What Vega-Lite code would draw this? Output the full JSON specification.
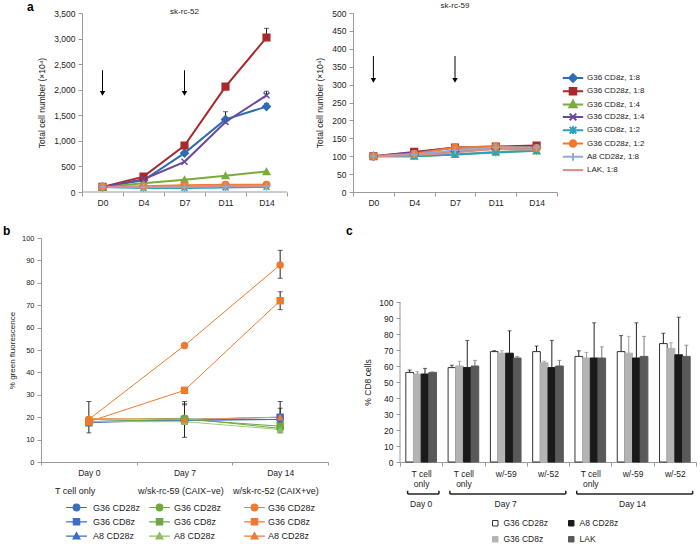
{
  "$schema": "https://vega.github.io/schema/vega-lite/v6.json",
  "padding": {"left": 3, "top": 1, "right": 0, "bottom": 0},
  "config": {
    "font": "Liberation Sans",
    "view": {"stroke": null},
    "axis": {"grid": false, "labelOverlap": false, "labelFontSize": 8.5, "titleFontSize": 8.5, "titleFontWeight": "normal", "labelColor": "#222", "titleColor": "#222", "domainColor": "#9a9a9a", "tickColor": "#9a9a9a", "tickSize": 4},
    "legend": {"labelFontSize": 8.5, "titleFontSize": 8.5, "titleFontWeight": "normal", "labelColor": "#222", "titleColor": "#222"},
    "title": {"fontSize": 8.5, "fontWeight": "normal", "color": "#222"}
  },
  "datasets": {
    "growth": [
      {"line": "sk-rc-52", "day": "D0", "series": "G36 CD8z, 1:8", "value": 100},
      {"line": "sk-rc-52", "day": "D4", "series": "G36 CD8z, 1:8", "value": 230},
      {"line": "sk-rc-52", "day": "D7", "series": "G36 CD8z, 1:8", "value": 760},
      {"line": "sk-rc-52", "day": "D11", "series": "G36 CD8z, 1:8", "value": 1420},
      {"line": "sk-rc-52", "day": "D14", "series": "G36 CD8z, 1:8", "value": 1670},
      {"line": "sk-rc-52", "day": "D0", "series": "G36 CD28z, 1:8", "value": 100},
      {"line": "sk-rc-52", "day": "D4", "series": "G36 CD28z, 1:8", "value": 300},
      {"line": "sk-rc-52", "day": "D7", "series": "G36 CD28z, 1:8", "value": 910},
      {"line": "sk-rc-52", "day": "D11", "series": "G36 CD28z, 1:8", "value": 2060},
      {"line": "sk-rc-52", "day": "D14", "series": "G36 CD28z, 1:8", "value": 3020},
      {"line": "sk-rc-52", "day": "D0", "series": "G36 CD8z, 1:4", "value": 100},
      {"line": "sk-rc-52", "day": "D4", "series": "G36 CD8z, 1:4", "value": 170},
      {"line": "sk-rc-52", "day": "D7", "series": "G36 CD8z, 1:4", "value": 240},
      {"line": "sk-rc-52", "day": "D11", "series": "G36 CD8z, 1:4", "value": 320},
      {"line": "sk-rc-52", "day": "D14", "series": "G36 CD8z, 1:4", "value": 400},
      {"line": "sk-rc-52", "day": "D0", "series": "G36 CD28z, 1:4", "value": 100},
      {"line": "sk-rc-52", "day": "D4", "series": "G36 CD28z, 1:4", "value": 250},
      {"line": "sk-rc-52", "day": "D7", "series": "G36 CD28z, 1:4", "value": 590},
      {"line": "sk-rc-52", "day": "D11", "series": "G36 CD28z, 1:4", "value": 1370},
      {"line": "sk-rc-52", "day": "D14", "series": "G36 CD28z, 1:4", "value": 1890},
      {"line": "sk-rc-52", "day": "D0", "series": "G36 CD8z, 1:2", "value": 100},
      {"line": "sk-rc-52", "day": "D4", "series": "G36 CD8z, 1:2", "value": 80},
      {"line": "sk-rc-52", "day": "D7", "series": "G36 CD8z, 1:2", "value": 80},
      {"line": "sk-rc-52", "day": "D11", "series": "G36 CD8z, 1:2", "value": 90},
      {"line": "sk-rc-52", "day": "D14", "series": "G36 CD8z, 1:2", "value": 100},
      {"line": "sk-rc-52", "day": "D0", "series": "G36 CD28z, 1:2", "value": 100},
      {"line": "sk-rc-52", "day": "D4", "series": "G36 CD28z, 1:2", "value": 110},
      {"line": "sk-rc-52", "day": "D7", "series": "G36 CD28z, 1:2", "value": 130},
      {"line": "sk-rc-52", "day": "D11", "series": "G36 CD28z, 1:2", "value": 140},
      {"line": "sk-rc-52", "day": "D14", "series": "G36 CD28z, 1:2", "value": 140},
      {"line": "sk-rc-52", "day": "D0", "series": "A8 CD28z, 1:8", "value": 100},
      {"line": "sk-rc-52", "day": "D4", "series": "A8 CD28z, 1:8", "value": 95},
      {"line": "sk-rc-52", "day": "D7", "series": "A8 CD28z, 1:8", "value": 100},
      {"line": "sk-rc-52", "day": "D11", "series": "A8 CD28z, 1:8", "value": 110},
      {"line": "sk-rc-52", "day": "D14", "series": "A8 CD28z, 1:8", "value": 110},
      {"line": "sk-rc-52", "day": "D0", "series": "LAK, 1:8", "value": 100},
      {"line": "sk-rc-52", "day": "D4", "series": "LAK, 1:8", "value": 100},
      {"line": "sk-rc-52", "day": "D7", "series": "LAK, 1:8", "value": 110},
      {"line": "sk-rc-52", "day": "D11", "series": "LAK, 1:8", "value": 120},
      {"line": "sk-rc-52", "day": "D14", "series": "LAK, 1:8", "value": 125},
      {"line": "sk-rc-59", "day": "D0", "series": "G36 CD8z, 1:8", "value": 100},
      {"line": "sk-rc-59", "day": "D4", "series": "G36 CD8z, 1:8", "value": 105},
      {"line": "sk-rc-59", "day": "D7", "series": "G36 CD8z, 1:8", "value": 114},
      {"line": "sk-rc-59", "day": "D11", "series": "G36 CD8z, 1:8", "value": 121},
      {"line": "sk-rc-59", "day": "D14", "series": "G36 CD8z, 1:8", "value": 124},
      {"line": "sk-rc-59", "day": "D0", "series": "G36 CD28z, 1:8", "value": 100},
      {"line": "sk-rc-59", "day": "D4", "series": "G36 CD28z, 1:8", "value": 112},
      {"line": "sk-rc-59", "day": "D7", "series": "G36 CD28z, 1:8", "value": 124},
      {"line": "sk-rc-59", "day": "D11", "series": "G36 CD28z, 1:8", "value": 127},
      {"line": "sk-rc-59", "day": "D14", "series": "G36 CD28z, 1:8", "value": 130},
      {"line": "sk-rc-59", "day": "D0", "series": "G36 CD8z, 1:4", "value": 100},
      {"line": "sk-rc-59", "day": "D4", "series": "G36 CD8z, 1:4", "value": 100},
      {"line": "sk-rc-59", "day": "D7", "series": "G36 CD8z, 1:4", "value": 105},
      {"line": "sk-rc-59", "day": "D11", "series": "G36 CD8z, 1:4", "value": 112},
      {"line": "sk-rc-59", "day": "D14", "series": "G36 CD8z, 1:4", "value": 115},
      {"line": "sk-rc-59", "day": "D0", "series": "G36 CD28z, 1:4", "value": 100},
      {"line": "sk-rc-59", "day": "D4", "series": "G36 CD28z, 1:4", "value": 110},
      {"line": "sk-rc-59", "day": "D7", "series": "G36 CD28z, 1:4", "value": 124},
      {"line": "sk-rc-59", "day": "D11", "series": "G36 CD28z, 1:4", "value": 125},
      {"line": "sk-rc-59", "day": "D14", "series": "G36 CD28z, 1:4", "value": 126},
      {"line": "sk-rc-59", "day": "D0", "series": "G36 CD8z, 1:2", "value": 100},
      {"line": "sk-rc-59", "day": "D4", "series": "G36 CD8z, 1:2", "value": 100},
      {"line": "sk-rc-59", "day": "D7", "series": "G36 CD8z, 1:2", "value": 105},
      {"line": "sk-rc-59", "day": "D11", "series": "G36 CD8z, 1:2", "value": 110},
      {"line": "sk-rc-59", "day": "D14", "series": "G36 CD8z, 1:2", "value": 115},
      {"line": "sk-rc-59", "day": "D0", "series": "G36 CD28z, 1:2", "value": 100},
      {"line": "sk-rc-59", "day": "D4", "series": "G36 CD28z, 1:2", "value": 107},
      {"line": "sk-rc-59", "day": "D7", "series": "G36 CD28z, 1:2", "value": 124},
      {"line": "sk-rc-59", "day": "D11", "series": "G36 CD28z, 1:2", "value": 127},
      {"line": "sk-rc-59", "day": "D14", "series": "G36 CD28z, 1:2", "value": 123},
      {"line": "sk-rc-59", "day": "D0", "series": "A8 CD28z, 1:8", "value": 100},
      {"line": "sk-rc-59", "day": "D4", "series": "A8 CD28z, 1:8", "value": 105},
      {"line": "sk-rc-59", "day": "D7", "series": "A8 CD28z, 1:8", "value": 116},
      {"line": "sk-rc-59", "day": "D11", "series": "A8 CD28z, 1:8", "value": 124},
      {"line": "sk-rc-59", "day": "D14", "series": "A8 CD28z, 1:8", "value": 124},
      {"line": "sk-rc-59", "day": "D0", "series": "LAK, 1:8", "value": 100},
      {"line": "sk-rc-59", "day": "D4", "series": "LAK, 1:8", "value": 103},
      {"line": "sk-rc-59", "day": "D7", "series": "LAK, 1:8", "value": 110},
      {"line": "sk-rc-59", "day": "D11", "series": "LAK, 1:8", "value": 121},
      {"line": "sk-rc-59", "day": "D14", "series": "LAK, 1:8", "value": 118}
    ],
    "growthErr": [
      {"line": "sk-rc-52", "day": "D14", "value": 3020, "hi": 3200},
      {"line": "sk-rc-52", "day": "D14", "value": 1890, "hi": 1970},
      {"line": "sk-rc-52", "day": "D11", "value": 1420, "hi": 1570},
      {"line": "sk-rc-52", "day": "D14", "value": 1670, "hi": 1730}
    ],
    "arrows": [
      {"line": "sk-rc-52", "day": "D0", "top": 2380, "tip": 1930},
      {"line": "sk-rc-52", "day": "D7", "top": 2380, "tip": 1930},
      {"line": "sk-rc-59", "day": "D0", "top": 380, "tip": 312},
      {"line": "sk-rc-59", "day": "D7", "top": 380, "tip": 312}
    ],
    "gfp": [
      {"day": "Day 0", "group": "T", "variant": "G36 CD28z", "series": "T|G36 CD28z", "value": 18},
      {"day": "Day 7", "group": "T", "variant": "G36 CD28z", "series": "T|G36 CD28z", "value": 19},
      {"day": "Day 14", "group": "T", "variant": "G36 CD28z", "series": "T|G36 CD28z", "value": 19},
      {"day": "Day 0", "group": "T", "variant": "G36 CD8z", "series": "T|G36 CD8z", "value": 17.5},
      {"day": "Day 7", "group": "T", "variant": "G36 CD8z", "series": "T|G36 CD8z", "value": 19},
      {"day": "Day 14", "group": "T", "variant": "G36 CD8z", "series": "T|G36 CD8z", "value": 20},
      {"day": "Day 0", "group": "T", "variant": "A8 CD28z", "series": "T|A8 CD28z", "value": 18},
      {"day": "Day 7", "group": "T", "variant": "A8 CD28z", "series": "T|A8 CD28z", "value": 18.5},
      {"day": "Day 14", "group": "T", "variant": "A8 CD28z", "series": "T|A8 CD28z", "value": 19},
      {"day": "Day 0", "group": "59", "variant": "G36 CD28z", "series": "59|G36 CD28z", "value": 19},
      {"day": "Day 7", "group": "59", "variant": "G36 CD28z", "series": "59|G36 CD28z", "value": 19.5},
      {"day": "Day 14", "group": "59", "variant": "G36 CD28z", "series": "59|G36 CD28z", "value": 15},
      {"day": "Day 0", "group": "59", "variant": "G36 CD8z", "series": "59|G36 CD8z", "value": 18},
      {"day": "Day 7", "group": "59", "variant": "G36 CD8z", "series": "59|G36 CD8z", "value": 19},
      {"day": "Day 14", "group": "59", "variant": "G36 CD8z", "series": "59|G36 CD8z", "value": 16},
      {"day": "Day 0", "group": "59", "variant": "A8 CD28z", "series": "59|A8 CD28z", "value": 18},
      {"day": "Day 7", "group": "59", "variant": "A8 CD28z", "series": "59|A8 CD28z", "value": 18},
      {"day": "Day 14", "group": "59", "variant": "A8 CD28z", "series": "59|A8 CD28z", "value": 14.5},
      {"day": "Day 0", "group": "52", "variant": "G36 CD28z", "series": "52|G36 CD28z", "value": 19},
      {"day": "Day 7", "group": "52", "variant": "G36 CD28z", "series": "52|G36 CD28z", "value": 52},
      {"day": "Day 14", "group": "52", "variant": "G36 CD28z", "series": "52|G36 CD28z", "value": 88},
      {"day": "Day 0", "group": "52", "variant": "G36 CD8z", "series": "52|G36 CD8z", "value": 18},
      {"day": "Day 7", "group": "52", "variant": "G36 CD8z", "series": "52|G36 CD8z", "value": 32},
      {"day": "Day 14", "group": "52", "variant": "G36 CD8z", "series": "52|G36 CD8z", "value": 72},
      {"day": "Day 0", "group": "52", "variant": "A8 CD28z", "series": "52|A8 CD28z", "value": 19.5},
      {"day": "Day 7", "group": "52", "variant": "A8 CD28z", "series": "52|A8 CD28z", "value": 19},
      {"day": "Day 14", "group": "52", "variant": "A8 CD28z", "series": "52|A8 CD28z", "value": 20}
    ],
    "gfpErr": [
      {"day": "Day 0", "lo": 13, "hi": 27},
      {"day": "Day 7", "lo": 11, "hi": 27},
      {"day": "Day 7", "lo": 17, "hi": 26},
      {"day": "Day 7", "lo": 18, "hi": 25.5},
      {"day": "Day 14", "lo": 82, "hi": 94.5},
      {"day": "Day 14", "lo": 68, "hi": 76},
      {"day": "Day 14", "lo": 13, "hi": 27},
      {"day": "Day 14", "lo": 14, "hi": 24}
    ],
    "cd8": [
      {"grp": "T cell only|0", "variant": "G36 CD28z", "value": 56, "hi": 57.5},
      {"grp": "T cell only|0", "variant": "G36 CD8z", "value": 55, "hi": 56.5},
      {"grp": "T cell only|0", "variant": "A8 CD28z", "value": 55, "hi": 58.5},
      {"grp": "T cell only|0", "variant": "LAK", "value": 56, "hi": 56.3},
      {"grp": "T cell only|7", "variant": "G36 CD28z", "value": 59, "hi": 60.5},
      {"grp": "T cell only|7", "variant": "G36 CD8z", "value": 60, "hi": 63},
      {"grp": "T cell only|7", "variant": "A8 CD28z", "value": 59, "hi": 76},
      {"grp": "T cell only|7", "variant": "LAK", "value": 60, "hi": 63.5},
      {"grp": "w/-59|7", "variant": "G36 CD28z", "value": 69, "hi": 69.6},
      {"grp": "w/-59|7", "variant": "G36 CD8z", "value": 68, "hi": 69.5},
      {"grp": "w/-59|7", "variant": "A8 CD28z", "value": 68, "hi": 82},
      {"grp": "w/-59|7", "variant": "LAK", "value": 65, "hi": 66},
      {"grp": "w/-52|7", "variant": "G36 CD28z", "value": 69, "hi": 72.5},
      {"grp": "w/-52|7", "variant": "G36 CD8z", "value": 62, "hi": 63},
      {"grp": "w/-52|7", "variant": "A8 CD28z", "value": 59, "hi": 76},
      {"grp": "w/-52|7", "variant": "LAK", "value": 60, "hi": 63.5},
      {"grp": "T cell only|14", "variant": "G36 CD28z", "value": 66, "hi": 69.5},
      {"grp": "T cell only|14", "variant": "G36 CD8z", "value": 65, "hi": 68.5},
      {"grp": "T cell only|14", "variant": "A8 CD28z", "value": 65, "hi": 87},
      {"grp": "T cell only|14", "variant": "LAK", "value": 65, "hi": 72},
      {"grp": "w/-59|14", "variant": "G36 CD28z", "value": 69, "hi": 79},
      {"grp": "w/-59|14", "variant": "G36 CD8z", "value": 68, "hi": 78.5},
      {"grp": "w/-59|14", "variant": "A8 CD28z", "value": 65, "hi": 87},
      {"grp": "w/-59|14", "variant": "LAK", "value": 66, "hi": 78.5},
      {"grp": "w/-52|14", "variant": "G36 CD28z", "value": 74, "hi": 80.5},
      {"grp": "w/-52|14", "variant": "G36 CD8z", "value": 71, "hi": 74.5},
      {"grp": "w/-52|14", "variant": "A8 CD28z", "value": 67, "hi": 90.5},
      {"grp": "w/-52|14", "variant": "LAK", "value": 66, "hi": 73}
    ],
    "brackets": [
      {"day": "Day 0", "start": "T cell only|0", "mid": "T cell only|0", "end": "T cell only|0"},
      {"day": "Day 7", "start": "T cell only|7", "mid": "w/-59|7", "end": "w/-52|7"},
      {"day": "Day 14", "start": "T cell only|14", "mid": "w/-59|14", "end": "w/-52|14"}
    ]
  },
  "spacing": 18,
  "resolve": {"scale": {"color": "independent", "fill": "independent", "stroke": "independent", "shape": "independent", "xOffset": "independent"}},
  "vconcat": [
    {
      "spacing": 27,
      "resolve": {"scale": {"color": "independent", "fill": "independent", "stroke": "independent", "shape": "independent"}},
      "hconcat": [
        {
          "width": 246, "height": 179,
          "title": {"text": "a", "anchor": "start", "frame": "group", "fontSize": 12, "fontWeight": "bold", "color": "#000", "offset": -6, "dx": -14},
          "encoding": {"x": {"field": "day", "type": "ordinal", "title": null, "scale": {"type": "band", "domain": ["D0", "D4", "D7", "D11", "D14"], "paddingInner": 0, "paddingOuter": 0.5, "align": 1}, "axis": {"labelAngle": 0, "tickBand": "extent", "labelPadding": 2, "domain": false}}},
          "layer": [
            {"data": {"name": "growth"}, "transform": [{"filter": "datum.line == 'sk-rc-52'"}],
             "mark": {"type": "line", "strokeWidth": 2},
             "encoding": {
               "y": {"field": "value", "type": "quantitative", "title": "Total cell number (×10⁴)", "scale": {"domain": [0, 3500]}, "axis": {"values": [0, 500, 1000, 1500, 2000, 2500, 3000, 3500], "tickCount": 12, "format": ",d", "labelOverlap": false, "labelPadding": 3, "titlePadding": 7, "offset": -41}},
               "color": {"field": "series", "type": "nominal", "scale": {"domain": ["G36 CD8z, 1:8", "G36 CD28z, 1:8", "G36 CD8z, 1:4", "G36 CD28z, 1:4", "G36 CD8z, 1:2", "G36 CD28z, 1:2", "A8 CD28z, 1:8", "LAK, 1:8"], "range": ["#2C6DB6", "#A8292C", "#79AC3B", "#6A4A9A", "#2AA1BE", "#EF7B2E", "#8FABDB", "#DC8C89"]}, "legend": null}
             }},
            {"data": {"values": [{}]},
             "mark": {"type": "rule", "color": "#9a9a9a", "strokeWidth": 1},
             "encoding": {"x": {"datum": "D0", "bandPosition": 0}, "x2": {"datum": "D14", "bandPosition": 1}, "y": {"datum": 0}}},
            {"data": {"name": "growthErr"}, "transform": [{"filter": "datum.line == 'sk-rc-52'"}],
             "mark": {"type": "rule", "color": "#222", "strokeWidth": 1},
             "encoding": {"y": {"field": "value", "type": "quantitative", "title": "Total cell number (×10⁴)"}, "y2": {"field": "hi"}}},
            {"data": {"name": "growthErr"}, "transform": [{"filter": "datum.line == 'sk-rc-52'"}],
             "mark": {"type": "tick", "color": "#222", "size": 5, "thickness": 1, "orient": "horizontal"},
             "encoding": {"y": {"field": "hi", "type": "quantitative", "title": "Total cell number (×10⁴)"}}},
            {"data": {"name": "growth"}, "transform": [{"filter": "datum.line == 'sk-rc-52' && datum.series != 'LAK, 1:8'"}],
             "mark": {"type": "point", "filled": true, "opacity": 1, "size": 44, "strokeWidth": 1.5},
             "encoding": {
               "y": {"field": "value", "type": "quantitative", "title": "Total cell number (×10⁴)"},
               "shape": {"field": "series", "type": "nominal", "scale": {"domain": ["G36 CD8z, 1:8", "G36 CD28z, 1:8", "G36 CD8z, 1:4", "G36 CD28z, 1:4", "G36 CD8z, 1:2", "G36 CD28z, 1:2", "A8 CD28z, 1:8", "LAK, 1:8"], "range": ["M0,-1.15L1.15,0L0,1.15L-1.15,0Z", "square", "triangle-up", "M-0.9,-0.9L0.9,0.9M-0.9,0.9L0.9,-0.9", "M-0.9,-0.9L0.9,0.9M-0.9,0.9L0.9,-0.9M0,-1.1V1.1", "circle", "M-1.1,0H1.1M0,-1.1V1.1", "circle"]}, "legend": null},
               "fill": {"field": "series", "type": "nominal", "scale": {"domain": ["G36 CD8z, 1:8", "G36 CD28z, 1:8", "G36 CD8z, 1:4", "G36 CD28z, 1:4", "G36 CD8z, 1:2", "G36 CD28z, 1:2", "A8 CD28z, 1:8", "LAK, 1:8"], "range": ["#2C6DB6", "#A8292C", "#79AC3B", "#6A4A9A", "#2AA1BE", "#EF7B2E", "#8FABDB", "#DC8C89"]}, "legend": null},
               "stroke": {"field": "series", "type": "nominal", "scale": {"domain": ["G36 CD8z, 1:8", "G36 CD28z, 1:8", "G36 CD8z, 1:4", "G36 CD28z, 1:4", "G36 CD8z, 1:2", "G36 CD28z, 1:2", "A8 CD28z, 1:8", "LAK, 1:8"], "range": ["#2C6DB6", "#A8292C", "#79AC3B", "#6A4A9A", "#2AA1BE", "#EF7B2E", "#8FABDB", "#DC8C89"]}, "legend": null}
             }},
            {"data": {"name": "arrows"}, "transform": [{"filter": "datum.line == 'sk-rc-52'"}],
             "mark": {"type": "rule", "color": "#000", "strokeWidth": 1},
             "encoding": {"y": {"field": "top", "type": "quantitative", "title": "Total cell number (×10⁴)"}, "y2": {"field": "tip"}}},
            {"data": {"name": "arrows"}, "transform": [{"filter": "datum.line == 'sk-rc-52'"}],
             "mark": {"type": "point", "shape": "triangle-down", "filled": true, "color": "#000", "opacity": 1, "size": 30},
             "encoding": {"y": {"field": "tip", "type": "quantitative", "title": "Total cell number (×10⁴)"}}},
            {"data": {"values": [{}]},
             "mark": {"type": "text", "fontSize": 8, "color": "#222", "baseline": "alphabetic", "dy": 1},
             "encoding": {"x": {"datum": "D7"}, "y": {"datum": 3500}, "text": {"value": "sk-rc-52"}}}
          ]
        },
        {
          "width": 204, "height": 179,
          "title": {"text": "sk-rc-59", "offset": -1, "fontSize": 8},
          "resolve": {"scale": {"fill": "independent", "stroke": "independent", "shape": "independent"}},
          "encoding": {"x": {"field": "day", "type": "ordinal", "title": null, "scale": {"type": "band", "domain": ["D0", "D4", "D7", "D11", "D14"], "paddingInner": 0, "paddingOuter": 0}, "axis": {"labelAngle": 0, "tickBand": "extent", "labelPadding": 2}}},
          "layer": [
            {"data": {"name": "growth"}, "transform": [{"filter": "datum.line == 'sk-rc-59'"}],
             "mark": {"type": "line", "strokeWidth": 2},
             "encoding": {
               "y": {"field": "value", "type": "quantitative", "title": "Total cell number (×10⁴)", "scale": {"domain": [0, 500]}, "axis": {"values": [0, 50, 100, 150, 200, 250, 300, 350, 400, 450, 500], "tickCount": 12, "format": "d", "labelOverlap": false, "labelPadding": 3, "titlePadding": 7}},
               "color": {"field": "series", "type": "nominal", "scale": {"domain": ["G36 CD8z, 1:8", "G36 CD28z, 1:8", "G36 CD8z, 1:4", "G36 CD28z, 1:4", "G36 CD8z, 1:2", "G36 CD28z, 1:2", "A8 CD28z, 1:8", "LAK, 1:8"], "range": ["#2C6DB6", "#A8292C", "#79AC3B", "#6A4A9A", "#2AA1BE", "#EF7B2E", "#8FABDB", "#DC8C89"]}, "legend": null}
             }},
            {"data": {"name": "growth"}, "transform": [{"filter": "datum.line == 'sk-rc-59' && datum.series != 'LAK, 1:8'"}],
             "mark": {"type": "point", "filled": true, "opacity": 1, "size": 44, "strokeWidth": 1.5},
             "encoding": {
               "y": {"field": "value", "type": "quantitative", "title": "Total cell number (×10⁴)"},
               "shape": {"field": "series", "type": "nominal", "scale": {"domain": ["G36 CD8z, 1:8", "G36 CD28z, 1:8", "G36 CD8z, 1:4", "G36 CD28z, 1:4", "G36 CD8z, 1:2", "G36 CD28z, 1:2", "A8 CD28z, 1:8", "LAK, 1:8"], "range": ["M0,-1.15L1.15,0L0,1.15L-1.15,0Z", "square", "triangle-up", "M-0.9,-0.9L0.9,0.9M-0.9,0.9L0.9,-0.9", "M-0.9,-0.9L0.9,0.9M-0.9,0.9L0.9,-0.9M0,-1.1V1.1", "circle", "M-1.1,0H1.1M0,-1.1V1.1", "circle"]}, "legend": null},
               "fill": {"field": "series", "type": "nominal", "scale": {"domain": ["G36 CD8z, 1:8", "G36 CD28z, 1:8", "G36 CD8z, 1:4", "G36 CD28z, 1:4", "G36 CD8z, 1:2", "G36 CD28z, 1:2", "A8 CD28z, 1:8", "LAK, 1:8"], "range": ["#2C6DB6", "#A8292C", "#79AC3B", "#6A4A9A", "#2AA1BE", "#EF7B2E", "#8FABDB", "#DC8C89"]}, "legend": null},
               "stroke": {"field": "series", "type": "nominal", "scale": {"domain": ["G36 CD8z, 1:8", "G36 CD28z, 1:8", "G36 CD8z, 1:4", "G36 CD28z, 1:4", "G36 CD8z, 1:2", "G36 CD28z, 1:2", "A8 CD28z, 1:8", "LAK, 1:8"], "range": ["#2C6DB6", "#A8292C", "#79AC3B", "#6A4A9A", "#2AA1BE", "#EF7B2E", "#8FABDB", "#DC8C89"]}, "legend": null}
             }},
            {"data": {"name": "arrows"}, "transform": [{"filter": "datum.line == 'sk-rc-59'"}],
             "mark": {"type": "rule", "color": "#000", "strokeWidth": 1},
             "encoding": {"y": {"field": "top", "type": "quantitative", "title": "Total cell number (×10⁴)"}, "y2": {"field": "tip"}}},
            {"data": {"name": "arrows"}, "transform": [{"filter": "datum.line == 'sk-rc-59'"}],
             "mark": {"type": "point", "shape": "triangle-down", "filled": true, "color": "#000", "opacity": 1, "size": 30},
             "encoding": {"y": {"field": "tip", "type": "quantitative", "title": "Total cell number (×10⁴)"}}},
            {"data": {"name": "growth"}, "transform": [{"filter": "datum.line == 'sk-rc-59' && datum.day == 'D0'"}],
             "mark": {"type": "point", "filled": true, "opacity": 0},
             "encoding": {
               "y": {"field": "value", "type": "quantitative", "title": "Total cell number (×10⁴)"},
               "shape": {"field": "series", "type": "nominal", "scale": {"domain": ["G36 CD8z, 1:8", "G36 CD28z, 1:8", "G36 CD8z, 1:4", "G36 CD28z, 1:4", "G36 CD8z, 1:2", "G36 CD28z, 1:2", "A8 CD28z, 1:8", "LAK, 1:8"], "range": ["M-3.4,0H3.4M0,-1.3L1.3,0L0,1.3L-1.3,0Z", "M-3.4,0H3.4M-1.1,-1.1H1.1V1.1H-1.1Z", "M-3.4,0H3.4M0,-1.3L1.2,0.9H-1.2Z", "M-3.4,0H3.4M-1.1,-1.1L1.1,1.1M-1.1,1.1L1.1,-1.1", "M-3.4,0H3.4M-1.1,-1.1L1.1,1.1M-1.1,1.1L1.1,-1.1M0,-1.3V1.3", "M-3.4,0H3.4M-1.1,0A1.1,1.1 0 1,0 1.1,0A1.1,1.1 0 1,0 -1.1,0Z", "M-3.4,0H3.4M0,-1.3V1.3", "M-3.4,0H3.4M0,-1.2L0,-1.2M0,1.2L0,1.2"]},
                 "legend": {"orient": "none", "legendX": 216, "legendY": 61, "title": null, "padding": 0, "symbolSize": 36, "symbolStrokeWidth": 2, "symbolOpacity": 1, "labelOffset": 10, "rowPadding": -2.7, "labelFontSize": 8}},
               "fill": {"field": "series", "type": "nominal", "scale": {"domain": ["G36 CD8z, 1:8", "G36 CD28z, 1:8", "G36 CD8z, 1:4", "G36 CD28z, 1:4", "G36 CD8z, 1:2", "G36 CD28z, 1:2", "A8 CD28z, 1:8", "LAK, 1:8"], "range": ["#2C6DB6", "#A8292C", "#79AC3B", "#6A4A9A", "#2AA1BE", "#EF7B2E", "#8FABDB", "#DC8C89"]},
                 "legend": {"orient": "none", "legendX": 216, "legendY": 61, "title": null, "padding": 0, "symbolSize": 36, "symbolStrokeWidth": 2, "symbolOpacity": 1, "labelOffset": 10, "rowPadding": -2.7, "labelFontSize": 8}},
               "stroke": {"field": "series", "type": "nominal", "scale": {"domain": ["G36 CD8z, 1:8", "G36 CD28z, 1:8", "G36 CD8z, 1:4", "G36 CD28z, 1:4", "G36 CD8z, 1:2", "G36 CD28z, 1:2", "A8 CD28z, 1:8", "LAK, 1:8"], "range": ["#2C6DB6", "#A8292C", "#79AC3B", "#6A4A9A", "#2AA1BE", "#EF7B2E", "#8FABDB", "#DC8C89"]},
                 "legend": {"orient": "none", "legendX": 216, "legendY": 61, "title": null, "padding": 0, "symbolSize": 36, "symbolStrokeWidth": 2, "symbolOpacity": 1, "labelOffset": 10, "rowPadding": -2.7, "labelFontSize": 8}}
             }}
          ]
        }
      ]
    },
    {
      "spacing": 17,
      "resolve": {"scale": {"color": "independent", "fill": "independent", "stroke": "independent", "shape": "independent", "xOffset": "independent"}},
      "hconcat": [
        {
          "width": 287, "height": 224,
          "title": {"text": "b", "anchor": "start", "frame": "group", "fontSize": 12, "fontWeight": "bold", "color": "#000", "offset": -4, "dx": -38},
          "resolve": {"scale": {"fill": "independent", "stroke": "independent", "shape": "independent"}},
          "encoding": {"x": {"field": "day", "type": "ordinal", "title": null, "scale": {"type": "band", "domain": ["Day 0", "Day 7", "Day 14"], "paddingInner": 0, "paddingOuter": 0}, "axis": {"labelAngle": 0, "tickBand": "extent", "labelPadding": 3, "tickSize": 3}}},
          "layer": [
            {"data": {"name": "gfp"},
             "mark": {"type": "line", "strokeWidth": 1},
             "encoding": {
               "y": {"field": "value", "type": "quantitative", "title": "% green fluorescence", "scale": {"domain": [0, 100]}, "axis": {"values": [0, 10, 20, 30, 40, 50, 60, 70, 80, 90, 100], "tickCount": 12, "format": "d", "labelOverlap": false, "labelFontSize": 7.5, "labelPadding": 3, "titlePadding": 5, "titleFontSize": 8}},
               "color": {"field": "series", "type": "nominal", "scale": {"domain": ["T|G36 CD28z", "T|G36 CD8z", "T|A8 CD28z", "59|G36 CD28z", "59|G36 CD8z", "59|A8 CD28z", "52|G36 CD28z", "52|G36 CD8z", "52|A8 CD28z"], "range": ["#3B6DC5", "#3B6DC5", "#3B6DC5", "#6EA840", "#6EA840", "#A5CA85", "#F07A2C", "#F07A2C", "#F39A5E"]}, "legend": null}
             }},
            {"data": {"name": "gfpErr"},
             "mark": {"type": "rule", "color": "#222", "strokeWidth": 1},
             "encoding": {"y": {"field": "lo", "type": "quantitative", "title": "% green fluorescence"}, "y2": {"field": "hi"}}},
            {"data": {"name": "gfpErr"},
             "mark": {"type": "tick", "color": "#222", "size": 5, "thickness": 1, "orient": "horizontal"},
             "encoding": {"y": {"field": "lo", "type": "quantitative", "title": "% green fluorescence"}}},
            {"data": {"name": "gfpErr"},
             "mark": {"type": "tick", "color": "#222", "size": 5, "thickness": 1, "orient": "horizontal"},
             "encoding": {"y": {"field": "hi", "type": "quantitative", "title": "% green fluorescence"}}},
            {"data": {"name": "gfp"},
             "mark": {"type": "point", "filled": true, "opacity": 1, "size": 55},
             "encoding": {
               "y": {"field": "value", "type": "quantitative", "title": "% green fluorescence"},
               "shape": {"field": "variant", "type": "nominal", "scale": {"domain": ["G36 CD28z", "G36 CD8z", "A8 CD28z"], "range": ["circle", "square", "triangle-up"]}, "legend": null},
               "fill": {"field": "series", "type": "nominal", "scale": {"domain": ["T|G36 CD28z", "T|G36 CD8z", "T|A8 CD28z", "59|G36 CD28z", "59|G36 CD8z", "59|A8 CD28z", "52|G36 CD28z", "52|G36 CD8z", "52|A8 CD28z"], "range": ["#3B6DC5", "#3B6DC5", "#3B6DC5", "#6EA840", "#6EA840", "#8DBE63", "#F07A2C", "#F07A2C", "#F07A2C"]}, "legend": null}
             }},
            {"data": {"name": "gfp"}, "transform": [{"filter": "datum.group == 'T'"}],
             "mark": {"type": "point", "filled": true, "opacity": 0},
             "encoding": {
               "y": {"field": "value", "type": "quantitative", "title": "% green fluorescence"},
               "shape": {"field": "variant", "type": "nominal", "scale": {"domain": ["G36 CD28z", "G36 CD8z", "A8 CD28z"], "range": ["M-2.96,0H2.96M-0.95,0A0.95,0.95 0 1,0 0.95,0A0.95,0.95 0 1,0 -0.95,0Z", "M-2.96,0H2.96M-0.9,-0.9H0.9V0.9H-0.9Z", "M-2.96,0H2.96M0,-1.05L1,0.8H-1Z"]},
                 "legend": {"orient": "none", "legendX": 14, "legendY": 249, "title": "T cell only", "padding": 0, "symbolSize": 49, "symbolStrokeWidth": 1.2, "symbolOpacity": 1, "symbolOffset": 17, "labelOffset": 12, "rowPadding": 1.3, "titlePadding": 7, "labelFontSize": 9, "titleFontSize": 9, "direction": "vertical"}},
               "fill": {"field": "variant", "type": "nominal", "scale": {"domain": ["G36 CD28z", "G36 CD8z", "A8 CD28z"], "range": ["#3B6DC5", "#3B6DC5", "#3B6DC5"]},
                 "legend": {"orient": "none", "legendX": 14, "legendY": 249, "title": "T cell only", "padding": 0, "symbolSize": 49, "symbolStrokeWidth": 1.2, "symbolOpacity": 1, "symbolOffset": 17, "labelOffset": 12, "rowPadding": 1.3, "titlePadding": 7, "labelFontSize": 9, "titleFontSize": 9, "direction": "vertical"}},
               "stroke": {"field": "variant", "type": "nominal", "scale": {"domain": ["G36 CD28z", "G36 CD8z", "A8 CD28z"], "range": ["#3B6DC5", "#3B6DC5", "#3B6DC5"]},
                 "legend": {"orient": "none", "legendX": 14, "legendY": 249, "title": "T cell only", "padding": 0, "symbolSize": 49, "symbolStrokeWidth": 1.2, "symbolOpacity": 1, "symbolOffset": 17, "labelOffset": 12, "rowPadding": 1.3, "titlePadding": 7, "labelFontSize": 9, "titleFontSize": 9, "direction": "vertical"}}
             }},
            {"data": {"name": "gfp"}, "transform": [{"filter": "datum.group == '59'"}],
             "mark": {"type": "point", "filled": true, "opacity": 0},
             "encoding": {
               "y": {"field": "value", "type": "quantitative", "title": "% green fluorescence"},
               "shape": {"field": "variant", "type": "nominal", "scale": {"domain": ["G36 CD28z", "G36 CD8z", "A8 CD28z"], "range": ["M-2.96,0H2.96M-0.95,0A0.95,0.95 0 1,0 0.95,0A0.95,0.95 0 1,0 -0.95,0Z", "M-2.96,0H2.96M-0.9,-0.9H0.9V0.9H-0.9Z", "M-2.96,0H2.96M0,-1.05L1,0.8H-1Z"]},
                 "legend": {"orient": "none", "legendX": 97, "legendY": 249, "title": "w/sk-rc-59 (CAIX\u2212ve)", "padding": 0, "symbolSize": 49, "symbolStrokeWidth": 1.2, "symbolOpacity": 1, "symbolOffset": 17, "labelOffset": 10, "rowPadding": 1.3, "titlePadding": 7, "labelFontSize": 9, "titleFontSize": 9, "direction": "vertical"}},
               "fill": {"field": "variant", "type": "nominal", "scale": {"domain": ["G36 CD28z", "G36 CD8z", "A8 CD28z"], "range": ["#6EA840", "#6EA840", "#8DBE63"]},
                 "legend": {"orient": "none", "legendX": 97, "legendY": 249, "title": "w/sk-rc-59 (CAIX\u2212ve)", "padding": 0, "symbolSize": 49, "symbolStrokeWidth": 1.2, "symbolOpacity": 1, "symbolOffset": 17, "labelOffset": 10, "rowPadding": 1.3, "titlePadding": 7, "labelFontSize": 9, "titleFontSize": 9, "direction": "vertical"}},
               "stroke": {"field": "variant", "type": "nominal", "scale": {"domain": ["G36 CD28z", "G36 CD8z", "A8 CD28z"], "range": ["#6EA840", "#6EA840", "#8DBE63"]},
                 "legend": {"orient": "none", "legendX": 97, "legendY": 249, "title": "w/sk-rc-59 (CAIX\u2212ve)", "padding": 0, "symbolSize": 49, "symbolStrokeWidth": 1.2, "symbolOpacity": 1, "symbolOffset": 17, "labelOffset": 10, "rowPadding": 1.3, "titlePadding": 7, "labelFontSize": 9, "titleFontSize": 9, "direction": "vertical"}}
             }},
            {"data": {"name": "gfp"}, "transform": [{"filter": "datum.group == '52'"}],
             "mark": {"type": "point", "filled": true, "opacity": 0},
             "encoding": {
               "y": {"field": "value", "type": "quantitative", "title": "% green fluorescence"},
               "shape": {"field": "variant", "type": "nominal", "scale": {"domain": ["G36 CD28z", "G36 CD8z", "A8 CD28z"], "range": ["M-2.96,0H2.96M-0.95,0A0.95,0.95 0 1,0 0.95,0A0.95,0.95 0 1,0 -0.95,0Z", "M-2.96,0H2.96M-0.9,-0.9H0.9V0.9H-0.9Z", "M-2.96,0H2.96M0,-1.05L1,0.8H-1Z"]},
                 "legend": {"orient": "none", "legendX": 192, "legendY": 249, "title": "w/sk-rc-52 (CAIX+ve)", "padding": 0, "symbolSize": 49, "symbolStrokeWidth": 1.2, "symbolOpacity": 1, "symbolOffset": 17, "labelOffset": 9, "rowPadding": 1.3, "titlePadding": 7, "labelFontSize": 9, "titleFontSize": 9, "direction": "vertical"}},
               "fill": {"field": "variant", "type": "nominal", "scale": {"domain": ["G36 CD28z", "G36 CD8z", "A8 CD28z"], "range": ["#F07A2C", "#F07A2C", "#F07A2C"]},
                 "legend": {"orient": "none", "legendX": 192, "legendY": 249, "title": "w/sk-rc-52 (CAIX+ve)", "padding": 0, "symbolSize": 49, "symbolStrokeWidth": 1.2, "symbolOpacity": 1, "symbolOffset": 17, "labelOffset": 9, "rowPadding": 1.3, "titlePadding": 7, "labelFontSize": 9, "titleFontSize": 9, "direction": "vertical"}},
               "stroke": {"field": "variant", "type": "nominal", "scale": {"domain": ["G36 CD28z", "G36 CD8z", "A8 CD28z"], "range": ["#F07A2C", "#F07A2C", "#F07A2C"]},
                 "legend": {"orient": "none", "legendX": 192, "legendY": 249, "title": "w/sk-rc-52 (CAIX+ve)", "padding": 0, "symbolSize": 49, "symbolStrokeWidth": 1.2, "symbolOpacity": 1, "symbolOffset": 17, "labelOffset": 9, "rowPadding": 1.3, "titlePadding": 7, "labelFontSize": 9, "titleFontSize": 9, "direction": "vertical"}}
             }}
          ]
        },
        {
          "width": 296, "height": 224,
          "title": {"text": "c", "anchor": "start", "frame": "group", "fontSize": 12, "fontWeight": "bold", "color": "#000", "offset": 0, "dx": -54},
          "layer": [
            {"data": {"name": "cd8"},
             "mark": {"type": "bar", "strokeWidth": 1},
             "encoding": {
               "x": {"field": "grp", "type": "nominal", "title": null, "scale": {"domain": ["T cell only|0", "T cell only|7", "w/-59|7", "w/-52|7", "T cell only|14", "w/-59|14", "w/-52|14"], "paddingInner": 0, "paddingOuter": 0}, "axis": {"labelAngle": 0, "tickBand": "extent", "labelPadding": 3, "labelLineHeight": 10.5, "labelExpr": "indexof(datum.label, 'T cell') == 0 ? ['T cell', 'only'] : split(datum.label, '|')[0]"}},
               "xOffset": {"field": "variant", "type": "nominal", "scale": {"domain": ["G36 CD28z", "G36 CD8z", "A8 CD28z", "LAK"], "paddingInner": 0, "paddingOuter": 0.76}},
               "y": {"field": "value", "type": "quantitative", "title": "% CD8 cells", "scale": {"domain": [0, 140]}, "axis": {"values": [0, 10, 20, 30, 40, 50, 60, 70, 80, 90, 100], "tickCount": 12, "format": "d", "labelOverlap": false, "domain": false, "labelPadding": 3, "titlePadding": 6, "titleY": 144}},
               "fill": {"field": "variant", "type": "nominal", "scale": {"domain": ["G36 CD28z", "G36 CD8z", "A8 CD28z", "LAK"], "range": ["#FFFFFF", "#B3B3B3", "#1A1A1A", "#595959"]},
                 "legend": {"orient": "none", "legendX": 91, "legendY": 281, "direction": "horizontal", "columns": 2, "values": ["G36 CD28z", "A8 CD28z", "G36 CD8z", "LAK"], "title": null, "symbolType": "square", "symbolSize": 30, "symbolStrokeWidth": 1, "labelOffset": 4, "columnPadding": 18, "rowPadding": 6, "labelFontSize": 8.5}},
               "stroke": {"field": "variant", "type": "nominal", "scale": {"domain": ["G36 CD28z", "G36 CD8z", "A8 CD28z", "LAK"], "range": ["#333333", "#B3B3B3", "#1A1A1A", "#595959"]},
                 "legend": {"orient": "none", "legendX": 91, "legendY": 281, "direction": "horizontal", "columns": 2, "values": ["G36 CD28z", "A8 CD28z", "G36 CD8z", "LAK"], "title": null, "symbolType": "square", "symbolSize": 30, "symbolStrokeWidth": 1, "labelOffset": 4, "columnPadding": 18, "rowPadding": 6, "labelFontSize": 8.5}}
             }},
            {"data": {"values": [{}]},
             "mark": {"type": "rule", "color": "#9a9a9a", "strokeWidth": 1},
             "encoding": {"x": {"datum": "T cell only|0", "bandPosition": 0}, "y": {"datum": 0}, "y2": {"datum": 100}}},
            {"data": {"name": "cd8"},
             "mark": {"type": "rule", "strokeWidth": 1},
             "encoding": {
               "x": {"field": "grp", "type": "nominal", "title": null},
               "xOffset": {"field": "variant", "type": "nominal"},
               "y": {"field": "value", "type": "quantitative", "title": "% CD8 cells"},
               "y2": {"field": "hi"},
               "color": {"field": "variant", "type": "nominal", "scale": {"domain": ["G36 CD28z", "G36 CD8z", "A8 CD28z", "LAK"], "range": ["#222222", "#999999", "#222222", "#777777"]}, "legend": null}
             }},
            {"data": {"name": "cd8"},
             "mark": {"type": "tick", "size": 4, "thickness": 1, "orient": "horizontal"},
             "encoding": {
               "x": {"field": "grp", "type": "nominal", "title": null},
               "xOffset": {"field": "variant", "type": "nominal"},
               "y": {"field": "hi", "type": "quantitative", "title": "% CD8 cells"},
               "color": {"field": "variant", "type": "nominal", "scale": {"domain": ["G36 CD28z", "G36 CD8z", "A8 CD28z", "LAK"], "range": ["#222222", "#999999", "#222222", "#777777"]}, "legend": null}
             }},
            {"data": {"name": "brackets"},
             "mark": {"type": "rule", "color": "#222", "strokeWidth": 1.5},
             "encoding": {
               "x": {"field": "start", "type": "nominal", "title": null, "bandPosition": 0.18},
               "x2": {"field": "end", "bandPosition": 0.92},
               "y": {"datum": -20}
             }},
            {"data": {"name": "brackets"},
             "mark": {"type": "rule", "color": "#222", "strokeWidth": 1.5},
             "encoding": {
               "x": {"field": "start", "type": "nominal", "title": null, "bandPosition": 0.18},
               "y": {"datum": -20},
               "y2": {"datum": -18}
             }},
            {"data": {"name": "brackets"},
             "mark": {"type": "rule", "color": "#222", "strokeWidth": 1.5},
             "encoding": {
               "x": {"field": "end", "type": "nominal", "title": null, "bandPosition": 0.92},
               "y": {"datum": -20},
               "y2": {"datum": -18}
             }},
            {"data": {"name": "brackets"},
             "mark": {"type": "text", "fontSize": 8.5, "color": "#222", "baseline": "middle"},
             "encoding": {
               "x": {"field": "mid", "type": "nominal", "title": null},
               "y": {"datum": -26},
               "text": {"field": "day"}
             }}
          ]
        }
      ]
    }
  ]
}
